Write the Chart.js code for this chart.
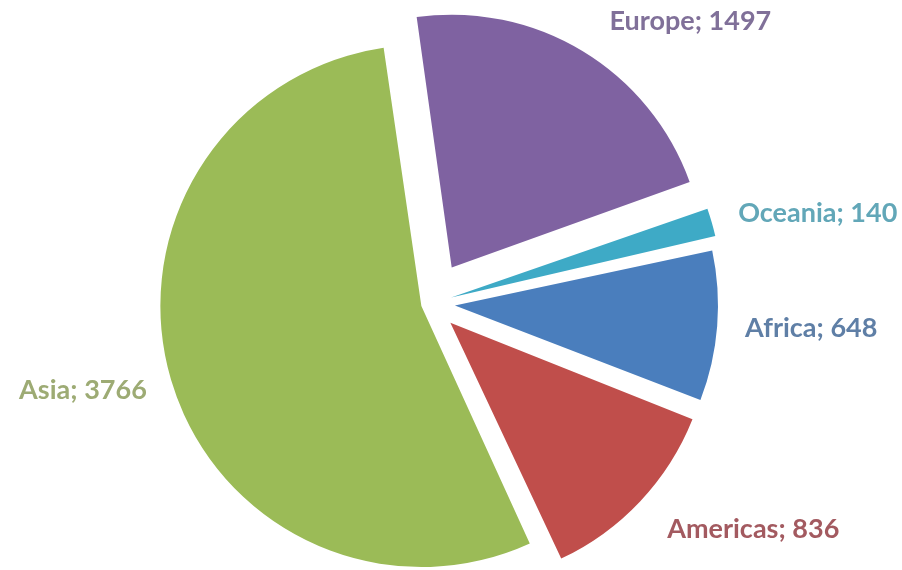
<!DOCTYPE html>
<html>
<head>
<meta charset="utf-8">
<script src="https://cdn.jsdelivr.net/npm/chart.js@4/dist/chart.umd.min.js"></script>
<style>
  html, body { margin: 0; padding: 0; background: #fff; }
  #wrap { width: 902px; height: 570px; }
</style>
</head>
<body>
<div id="wrap"><canvas id="pie" width="902" height="570"></canvas></div>
<script>
const regions = ['Europe', 'Oceania', 'Africa', 'Americas', 'Asia'];
const population = [1497, 140, 648, 836, 3766];

const sliceColors = ['#7f62a1', '#3eaac6', '#4a7ebd', '#c04e4b', '#9bbb57'];
const labelColors = ['#807099', '#62a7b8', '#5f7fa6', '#a35a60', '#9dab74'];

// how far each slice is pulled out, px (chart.js shifts an arc by offset / 4)
const explode = [42, 22, 25, 28, 9];

// where each label sits relative to its anchor point
const labelAlign = ['left', 'left', 'left', 'left', 'right'];
const labelBase = ['bottom', 'middle', 'middle', 'middle', 'middle'];
const labelNudge = [[13, 7], [18, -7], [11, 1], [13, 15], [-6, 5]];

const outsideLabels = {
    id: 'outsideLabels',
    afterDatasetsDraw(chart) {
        const ctx = chart.ctx;
        const meta = chart.getDatasetMeta(0);
        ctx.save();
        ctx.font = 'bold 27px Lato, "Open Sans", sans-serif';
        meta.data.forEach((arc, i) => {
            const mid = (arc.startAngle + arc.endAngle) / 2;
            const r = arc.outerRadius + explode[i] + 28;
            const x = arc.x + Math.cos(mid) * r + labelNudge[i][0];
            const y = arc.y + Math.sin(mid) * r + labelNudge[i][1];
            ctx.fillStyle = labelColors[i];
            ctx.textAlign = labelAlign[i];
            ctx.textBaseline = labelBase[i];
            ctx.fillText(regions[i] + '; ' + population[i], x, y);
        });
        ctx.restore();
    }
};

new Chart(document.getElementById('pie'), {
    type: 'pie',
    data: {
        labels: regions,
        datasets: [{
            data: population,
            backgroundColor: sliceColors,
            borderWidth: 0,
            offset: explode.map(d => d * 4)
        }]
    },
    options: {
        responsive: false,
        animation: false,
        rotation: -8,
        radius: 252,
        layout: { padding: { left: 0, right: 42, top: 37, bottom: 0 } },
        plugins: {
            legend: { display: false },
            tooltip: { enabled: false }
        }
    },
    plugins: [outsideLabels]
});
</script>
</body>
</html>
